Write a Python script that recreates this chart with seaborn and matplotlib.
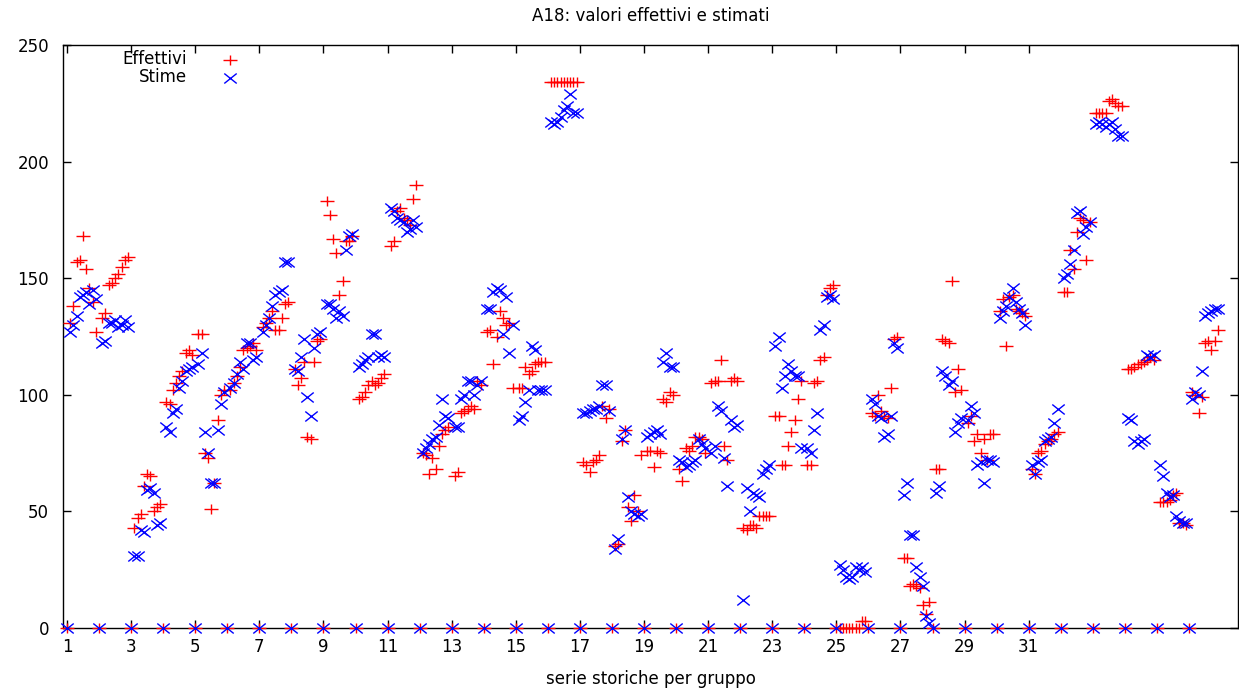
import matplotlib
matplotlib.use("Agg")
import matplotlib.pyplot as plt
import numpy as np
import pandas as pd
import seaborn as sns
from matplotlib.path import Path

# 36 serie, ognuna preceduta da uno zero; 9 valori per serie
effettivi = [
    [131, 138, 157, 158, 168, 154, 146, 140, 127],
    [133, 135, 147, 148, 150, 152, 155, 158, 159],
    [43, 47, 49, 61, 66, 65, 50, 52, 53],
    [97, 96, 102, 105, 108, 110, 118, 119, 117],
    [126, 126, 75, 73, 51, 62, 89, 100, 102],
    [102, 105, 108, 112, 119, 120, 121, 122, 119],
    [129, 131, 133, 136, 128, 128, 133, 139, 140],
    [111, 104, 107, 114, 82, 81, 114, 123, 124],
    [183, 177, 167, 161, 143, 149, 166, 166, 168],
    [98, 99, 101, 104, 106, 104, 105, 107, 109],
    [164, 166, 179, 180, 176, 175, 173, 184, 190],
    [75, 74, 66, 73, 68, 78, 83, 85, 86],
    [65, 67, 92, 93, 94, 95, 94, 106, 104],
    [127, 128, 113, 125, 136, 133, 130, 131, 103],
    [103, 103, 112, 109, 110, 113, 114, 114, 114],
    [234, 234, 234, 234, 234, 234, 234, 234, 234],
    [71, 70, 67, 71, 72, 74, 95, 90, 94],
    [35, 36, 80, 85, 52, 46, 57, 50, 74],
    [76, 76, 69, 76, 75, 98, 97, 101, 100],
    [68, 63, 77, 76, 78, 82, 82, 81, 75],
    [105, 106, 106, 115, 78, 72, 106, 107, 106],
    [43, 42, 44, 44, 43, 48, 48, 48, 48],
    [91, 91, 70, 70, 78, 84, 89, 98, 106],
    [70, 70, 105, 106, 115, 116, 143, 146, 147],
    [0, 0, 0, 0, 0, 0, 0, 3, 3],
    [92, 91, 100, 93, 91, 90, 103, 124, 125],
    [30, 30, 18, 19, 18, 17, 10, 6, 11],
    [68, 68, 124, 123, 122, 149, 101, 111, 102],
    [88, 91, 80, 83, 75, 81, 72, 83, 83],
    [136, 141, 121, 142, 143, 137, 136, 135, 134],
    [68, 66, 75, 76, 79, 80, 81, 83, 84],
    [144, 144, 162, 154, 170, 176, 175, 158, 174],
    [221, 221, 221, 221, 226, 227, 225, 224, 224],
    [111, 111, 112, 113, 113, 114, 115, 116, 115],
    [54, 54, 54, 55, 57, 58, 45, 45, 44],
    [101, 100, 92, 99, 122, 123, 119, 123, 128],
]

stime = [
    [127, 130, 134, 142, 143, 144, 139, 145, 141],
    [122, 123, 131, 131, 132, 129, 130, 132, 129],
    [31, 31, 42, 41, 59, 60, 58, 44, 45],
    [86, 84, 92, 94, 103, 106, 110, 111, 112],
    [113, 118, 84, 75, 62, 62, 85, 96, 101],
    [103, 105, 109, 114, 111, 122, 122, 115, 116],
    [127, 130, 133, 138, 143, 144, 145, 157, 157],
    [111, 110, 116, 124, 99, 91, 120, 126, 127],
    [139, 139, 137, 133, 136, 134, 162, 168, 169],
    [112, 113, 115, 116, 126, 126, 116, 117, 116],
    [180, 179, 176, 175, 174, 170, 171, 175, 172],
    [75, 77, 79, 81, 82, 87, 98, 91, 90],
    [86, 86, 98, 100, 106, 106, 100, 104, 106],
    [137, 137, 144, 146, 145, 126, 142, 118, 130],
    [89, 91, 97, 102, 121, 119, 102, 102, 102],
    [217, 216, 217, 219, 222, 224, 229, 221, 221],
    [92, 92, 93, 94, 94, 95, 104, 104, 93],
    [34, 38, 81, 85, 56, 50, 49, 48, 49],
    [82, 83, 84, 85, 83, 114, 118, 112, 112],
    [72, 71, 69, 70, 71, 72, 81, 79, 77],
    [75, 78, 95, 93, 73, 61, 89, 86, 87],
    [12, 60, 50, 58, 57, 56, 66, 68, 70],
    [121, 125, 103, 108, 113, 110, 108, 108, 77],
    [77, 75, 85, 92, 128, 130, 142, 143, 141],
    [27, 25, 22, 21, 22, 26, 25, 26, 24],
    [98, 96, 91, 90, 82, 83, 91, 122, 120],
    [57, 62, 40, 40, 26, 22, 18, 5, 2],
    [58, 61, 110, 108, 104, 106, 84, 88, 90],
    [89, 95, 92, 70, 71, 62, 72, 72, 71],
    [133, 136, 138, 142, 146, 140, 137, 135, 130],
    [70, 66, 71, 72, 80, 81, 82, 88, 94],
    [150, 152, 156, 162, 178, 179, 169, 172, 174],
    [216, 217, 216, 215, 216, 217, 214, 211, 211],
    [90, 89, 80, 79, 80, 81, 117, 116, 117],
    [70, 65, 58, 56, 57, 48, 46, 45, 45],
    [98, 101, 100, 110, 134, 135, 136, 137, 137],
]

xtick_labels = list(range(1, 32, 2))


def to_frame(groups):
    rows = []
    for k, vals in enumerate(groups, start=1):
        rows.append((k, 0))
        for j, v in enumerate(vals, start=1):
            rows.append((k + j / 10, v))
    return pd.DataFrame(rows, columns=["x", "y"])


df_eff = to_frame(effettivi)
df_sti = to_frame(stime)

# marker "stirati" in orizzontale come nel png di gnuplot
plus = Path([(-1, 0), (1, 0), (0, -0.72), (0, 0.72)],
            [Path.MOVETO, Path.LINETO, Path.MOVETO, Path.LINETO])
cross = Path([(-1, -0.8), (1, 0.8), (-1, 0.8), (1, -0.8)],
             [Path.MOVETO, Path.LINETO, Path.MOVETO, Path.LINETO])

sns.set_theme(style="ticks")
plt.rcParams["font.family"] = ["DejaVu Sans"]
plt.rcParams["font.size"] = 12
for key in ["text.color", "axes.labelcolor", "xtick.color", "ytick.color",
            "axes.edgecolor"]:
    plt.rcParams[key] = "black"

fig = plt.figure(figsize=(12.39, 6.88), dpi=100)
ax = fig.add_axes([63 / 1239, 1 - 628 / 688, 1175 / 1239, 583 / 688])

sns.scatterplot(data=df_eff, x="x", y="y", marker=plus, s=100,
                color="#ff0000", edgecolor="#ff0000", linewidth=1.0,
                label="Effettivi", clip_on=False, zorder=3, ax=ax)
sns.scatterplot(data=df_sti, x="x", y="y", marker=cross, s=80,
                color="#0000ff", edgecolor="#0000ff", linewidth=1.0,
                label="Stime", clip_on=False, zorder=3, ax=ax)

ax.set_xlim(0.875, 37.53)
ax.set_ylim(0, 250)
ax.set_xticks(xtick_labels)
ax.set_xticklabels([str(t) for t in xtick_labels])
ax.set_yticks(range(0, 251, 50))
ax.tick_params(direction="in", top=True, right=True, length=6, width=1,
               labelsize=12, color="black", labelcolor="black")
ax.tick_params(axis="y", pad=10)
ax.tick_params(axis="x", pad=7)
for sp in ax.spines.values():
    sp.set_visible(True)
    sp.set_color("black")
    sp.set_linewidth(1.0)

ax.set_xlabel("serie storiche per gruppo", fontsize=12, labelpad=10,
              color="black")
ax.set_ylabel("")
ax.set_title("A18: valori effettivi e stimati", fontsize=12, pad=17,
             color="black")

leg = ax.legend(loc="upper right", bbox_to_anchor=(0.172, 1.005),
                markerfirst=False, frameon=False, borderpad=0,
                handlelength=3.2, handletextpad=1.0, labelspacing=0.0,
                fontsize=12)
for t in leg.get_texts():
    t.set_color("black")

fig.savefig("out.png", dpi=100)
